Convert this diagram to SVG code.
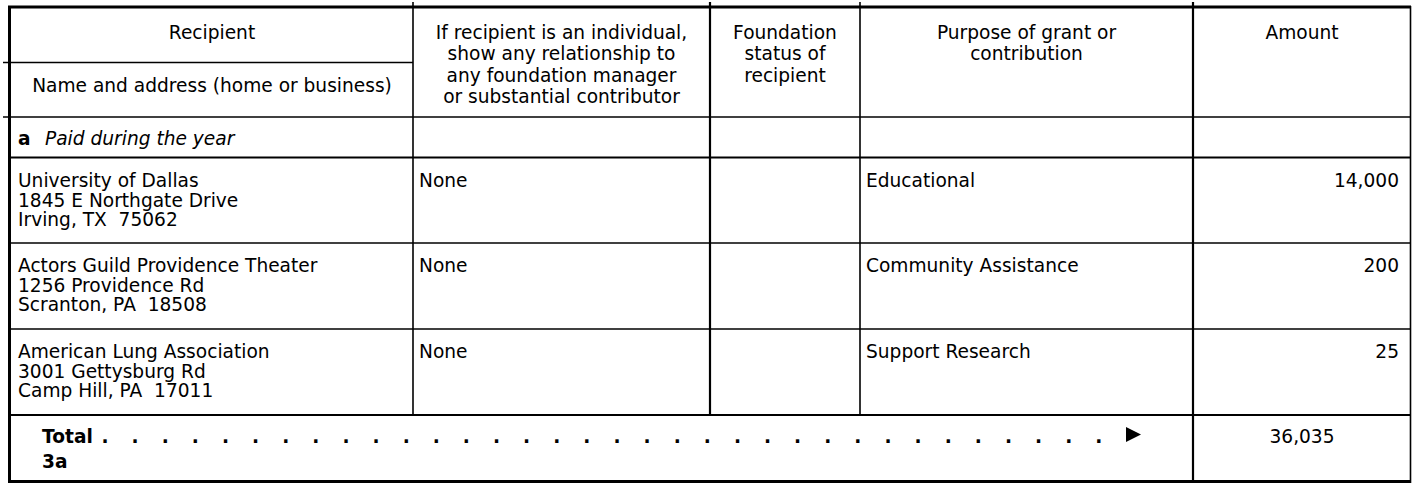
<svg xmlns="http://www.w3.org/2000/svg" width="1413" height="485" viewBox="0 0 1413 485">
<style>
  text { font-family: "DejaVu Sans", Verdana, sans-serif; font-size: 18.6px; fill: #000; }
  .c { text-anchor: middle; }
  .r { text-anchor: end; }
  .b { font-weight: bold; }
  .i { font-style: italic; }
  .thin { stroke: #000; stroke-width: 1.6; fill: none; }
  .mid { stroke: #000; stroke-width: 2.2; fill: none; }
  .thick { stroke: #000; stroke-width: 3; fill: none; }
</style>
<rect x="0" y="0" width="1413" height="485" fill="#fff"/>
<g id="grid">
  <line class="thick" x1="8" y1="7" x2="1411" y2="7"/>
  <line class="thick" x1="9.5" y1="6" x2="9.5" y2="483"/>
  <line class="thick" x1="8" y1="481.5" x2="1411" y2="481.5"/>
  <line class="thin" x1="1410.5" y1="6" x2="1410.5" y2="483"/>
  <line class="thin" x1="413" y1="2" x2="413" y2="415"/>
  <line class="mid" x1="710" y1="2" x2="710" y2="415"/>
  <line class="thin" x1="860" y1="2" x2="860" y2="415"/>
  <line class="mid" x1="1193" y1="2" x2="1193" y2="482"/>
  <line class="thin" x1="3" y1="62.5" x2="413" y2="62.5"/>
  <line class="thin" x1="3" y1="117" x2="1411" y2="117"/>
  <line class="mid" x1="9" y1="157.5" x2="1411" y2="157.5"/>
  <line class="thin" x1="9" y1="243" x2="1411" y2="243"/>
  <line class="thin" x1="9" y1="329" x2="1411" y2="329"/>
  <line class="mid" x1="9" y1="415" x2="1411" y2="415"/>
</g>
<g id="header">
  <text class="c" x="212" y="38.5">Recipient</text>
  <text class="c" x="212" y="91.5">Name and address (home or business)</text>
  <text class="c" x="561.5" y="38.5">If recipient is an individual,</text>
  <text class="c" x="561.5" y="60">show any relationship to</text>
  <text class="c" x="561.5" y="81.5">any foundation manager</text>
  <text class="c" x="561.5" y="103">or substantial contributor</text>
  <text class="c" x="785" y="38.5">Foundation</text>
  <text class="c" x="785" y="60">status of</text>
  <text class="c" x="785" y="81.5">recipient</text>
  <text class="c" x="1026.5" y="38.5">Purpose of grant or</text>
  <text class="c" x="1026.5" y="60">contribution</text>
  <text class="c" x="1302" y="38.5">Amount</text>
</g>
<g id="section-a">
  <text class="b" x="18" y="145">a</text>
  <text class="i" x="45" y="145">Paid during the year</text>
</g>
<g id="row-1">
  <text x="18" y="187">University of Dallas</text>
  <text x="18" y="206.5">1845 E Northgate Drive</text>
  <text x="18" y="226" xml:space="preserve">Irving, TX  75062</text>
  <text x="419" y="187">None</text>
  <text x="866" y="187">Educational</text>
  <text class="r" x="1399" y="187">14,000</text>
</g>
<g id="row-2">
  <text x="18" y="272">Actors Guild Providence Theater</text>
  <text x="18" y="291.5">1256 Providence Rd</text>
  <text x="18" y="311" xml:space="preserve">Scranton, PA  18508</text>
  <text x="419" y="272">None</text>
  <text x="866" y="272">Community Assistance</text>
  <text class="r" x="1399" y="272">200</text>
</g>
<g id="row-3">
  <text x="18" y="358">American Lung Association</text>
  <text x="18" y="377.5">3001 Gettysburg Rd</text>
  <text x="18" y="397" xml:space="preserve">Camp Hill, PA  17011</text>
  <text x="419" y="358">None</text>
  <text x="866" y="358">Support Research</text>
  <text class="r" x="1399" y="358">25</text>
</g>
<g id="total">
  <text class="b" x="42" y="443">Total</text>
  <text class="b" x="101.5" y="443" letter-spacing="23.05">..................................</text>
  <polygon points="1126,427 1141,434.5 1126,442" fill="#000"/>
  <text class="b" x="42" y="468">3a</text>
  <text class="c" x="1302" y="443">36,035</text>
</g>
</svg>
